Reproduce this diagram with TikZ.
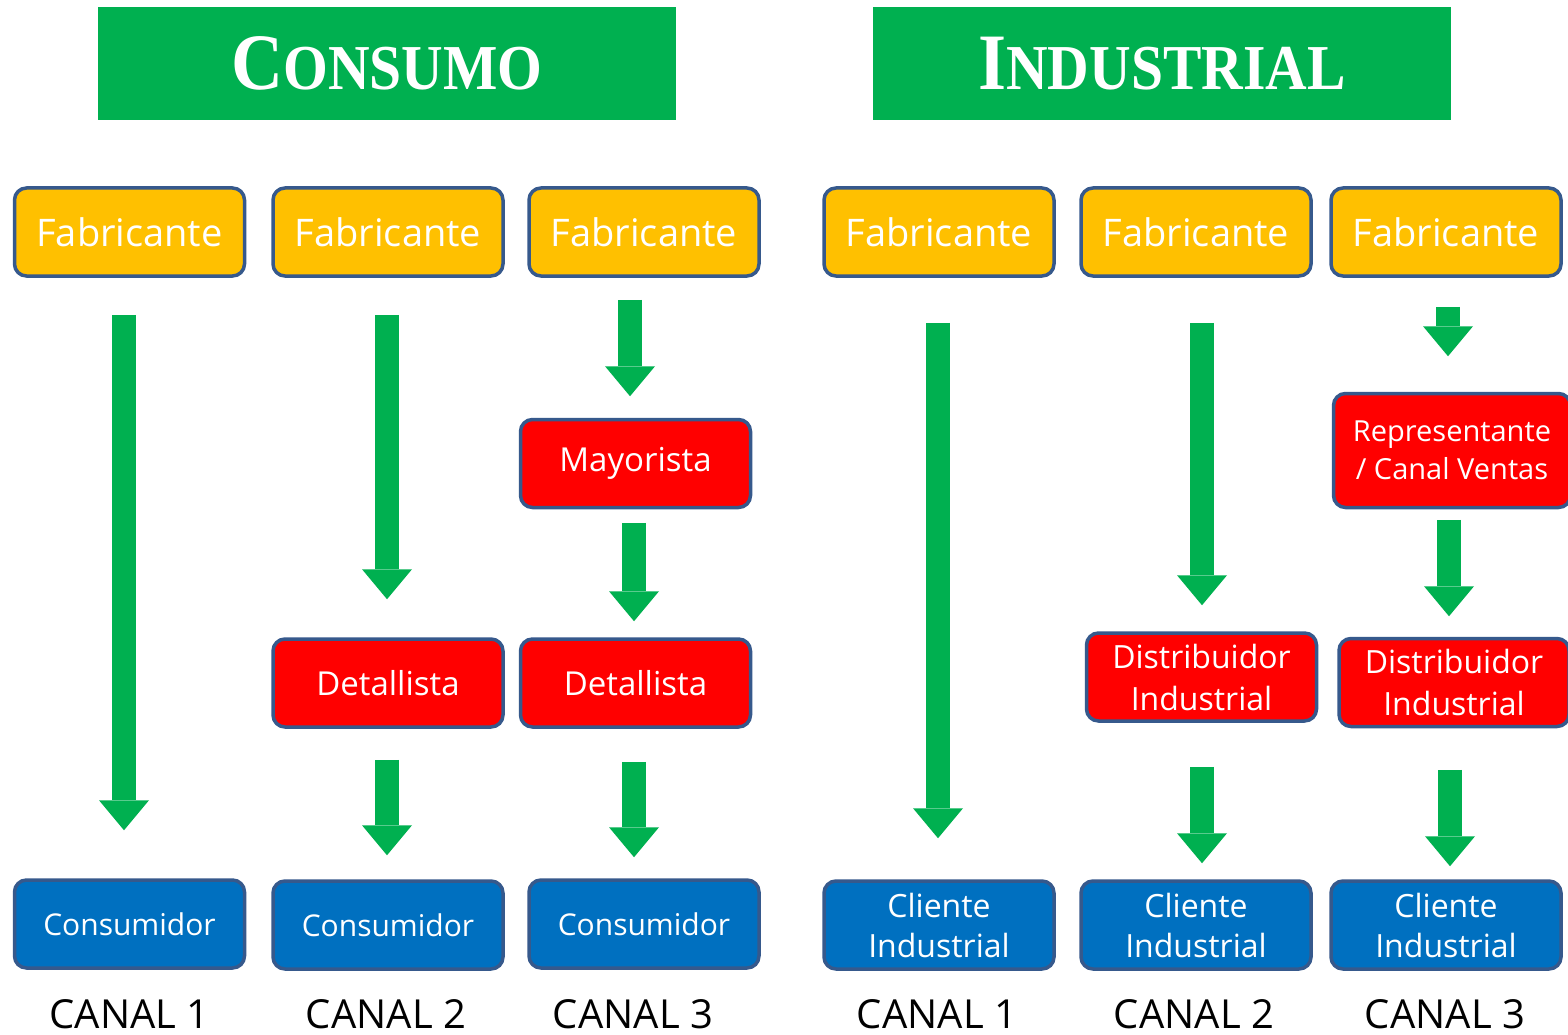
\documentclass[tikz,border=0pt]{standalone}
\usepackage{fontspec}
\usepackage{graphicx}
\setmainfont{Open Sans}
\newfontfamily\titlefont{Liberation Serif}
\usetikzlibrary{arrows.meta}
\definecolor{hdrgreen}{HTML}{00B050}
\definecolor{arrgreen}{HTML}{00B050}
\definecolor{fabyellow}{HTML}{FFC000}
\definecolor{midred}{HTML}{FF0000}
\definecolor{endblue}{HTML}{0070C0}
\definecolor{edgeblue}{HTML}{36598C}
\newcommand\ttlcaps[2]{\titlefont\bfseries\scalebox{0.9}[1]{{\fontsize{80}{80}\selectfont #1}{\fontsize{64}{64}\selectfont #2}}}
\begin{document}
\begin{tikzpicture}[x=1pt,y=-1pt,
  hdr/.style={fill=hdrgreen, text=white, inner sep=0, minimum width=578pt, minimum height=113pt},
  boxbase/.style={rounded corners=12pt, line width=3.5pt, draw=edgeblue, text=white, align=center, inner sep=0, minimum width=230pt, minimum height=88pt},
  fab/.style={boxbase, fill=fabyellow, font=\fontsize{38}{44}\selectfont},
  mid/.style={boxbase, fill=midred, font=\fontsize{33}{42}\selectfont},
  cons/.style={boxbase, fill=endblue, font=\fontsize{30}{38}\selectfont},
  cli/.style={boxbase, fill=endblue, font=\fontsize{32}{40}\selectfont},
  canal/.style={text=black, inner sep=0, font=\fontsize{40}{40}\selectfont},
  bigarrow/.style={draw=arrgreen, line width=24pt, -{Triangle[length=30pt,width=50pt,line width=0pt]}}
]
\useasboundingbox[fill=white] (0,0) rectangle (1568,1035);

% headers
\node[hdr] (hc) at (387,63.5) {\ttlcaps{C}{ONSUMO}};
\node[hdr] (hi) at (1162,63.5) {\ttlcaps{I}{NDUSTRIAL}};

% Consumo column 1
\node[fab] (f1) at (129.5,232) {Fabricante};
\node[cons] (c1) at (129.5,924) {Consumidor};
% column 2
\node[fab] (f2) at (388,232) {Fabricante};
\node[mid] (d2) at (388,683) {Detallista};
\node[cons] (c2) at (388,925) {Consumidor};
% column 3
\node[fab] (f3) at (644,232) {Fabricante};
\node[mid] (m3) at (635.5,463.5) {Mayorista};
\node[mid] (d3) at (635.5,683) {Detallista};
\node[cons] (c3) at (644,924) {Consumidor};

% Industrial column 1
\node[fab] (f4) at (939,232) {Fabricante};
\node[cli] (c4) at (939,925) {Cliente\\Industrial};
% column 2
\node[fab] (f5) at (1196,232) {Fabricante};
\node[mid, font=\fontsize{32}{42}\selectfont] (dd5) at (1201.5,677) {Distribuidor\\Industrial};
\node[cli] (c5) at (1196,925) {Cliente\\Industrial};
% column 3
\node[fab] (f6) at (1446,232) {Fabricante};
\node[mid, minimum width=237pt, minimum height=114pt, font=\fontsize{29}{38}\selectfont] (r6) at (1452,450.5) {Representante\\/ Canal Ventas};
\node[mid, font=\fontsize{32}{42}\selectfont] (dd6) at (1454,682.5) {Distribuidor\\Industrial};
\node[cli] (c6) at (1446,925) {Cliente\\Industrial};

% canal labels
\node[canal] (l1) at (129.5,1014) {CANAL 1};
\node[canal] (l2) at (386,1014) {CANAL 2};
\node[canal] (l3) at (633,1014) {CANAL 3};
\node[canal] (l4) at (937,1014) {CANAL 1};
\node[canal] (l5) at (1194,1014) {CANAL 2};
\node[canal] (l6) at (1445,1014) {CANAL 3};

% arrows
\draw[bigarrow] ([xshift=-5.5pt,yshift=-37pt]f1.south) -- ([xshift=-5.5pt,yshift=48pt]c1.north);
\draw[bigarrow] ([xshift=-1pt,yshift=-37pt]f2.south) -- ([xshift=-1pt,yshift=38pt]d2.north);
\draw[bigarrow] ([xshift=-1pt,yshift=-31pt]d2.south) -- ([xshift=-1pt,yshift=24pt]c2.north);
\draw[bigarrow] ([xshift=-14pt,yshift=-22pt]f3.south) -- ([xshift=-5.5pt,yshift=21.5pt]m3.north);
\draw[bigarrow] ([xshift=-1.5pt,yshift=-13.5pt]m3.south) -- ([xshift=-1.5pt,yshift=16pt]d3.north);
\draw[bigarrow] ([xshift=-1.5pt,yshift=-33pt]d3.south) -- ([xshift=-10pt,yshift=21pt]c3.north);
\draw[bigarrow] ([xshift=-1pt,yshift=-45pt]f4.south) -- ([xshift=-1pt,yshift=41pt]c4.north);
\draw[bigarrow] ([xshift=6pt,yshift=-45pt]f5.south) -- ([xshift=0.5pt,yshift=26pt]dd5.north);
\draw[bigarrow] ([xshift=0.5pt,yshift=-44pt]dd5.south) -- ([xshift=6pt,yshift=16pt]c5.north);
\draw[bigarrow] ([xshift=2pt,yshift=-29pt]f6.south) -- ([xshift=-4pt,yshift=35.5pt]r6.north);
\draw[bigarrow] ([xshift=-3pt,yshift=-10.5pt]r6.south) -- ([xshift=-5pt,yshift=20.5pt]dd6.north);
\draw[bigarrow] ([xshift=-4pt,yshift=-41.5pt]dd6.south) -- ([xshift=4pt,yshift=13pt]c6.north);
\end{tikzpicture}
\end{document}
